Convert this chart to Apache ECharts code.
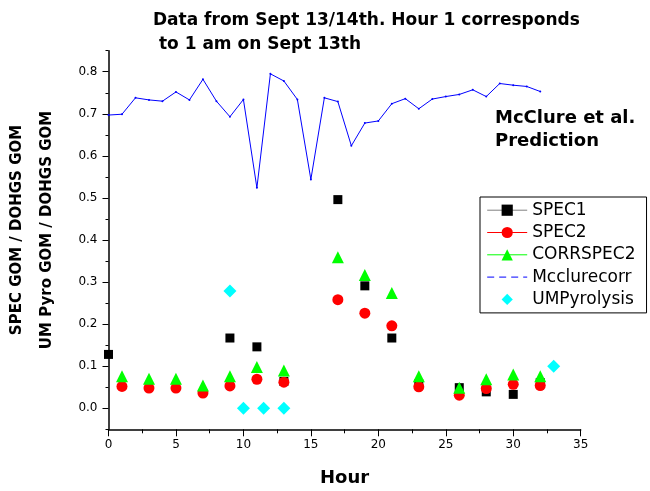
<!DOCTYPE html>
<html>
<head>
<meta charset="utf-8">
<script src="https://cdn.jsdelivr.net/npm/echarts@6/dist/echarts.min.js"></script>
<style>
html,body{margin:0;padding:0;background:#fff;}
#chart{width:650px;height:491px;}
</style>
</head>
<body>
<div id="chart"></div>
<script>
// ---- data ----
const titleText = 'Data from Sept 13/14th. Hour 1 corresponds\n to 1 am on Sept 13th';
const noteText = 'McClure et al.\nPrediction';
const xAxisTitle = 'Hour';
const yAxisTitle = 'SPEC GOM / DOHGS GOM\nUM Pyro GOM / DOHGS GOM';
const seriesNames = ['SPEC1', 'SPEC2', 'CORRSPEC2', 'Mcclurecorr', 'UMPyrolysis'];

const spec1Hours = [0, 9, 11, 13, 17, 19, 21, 23, 26, 28, 30, 32];
const spec1Vals  = [0.128, 0.167, 0.146, 0.064, 0.496, 0.291, 0.167, 0.058, 0.049, 0.039, 0.033, 0.061];

const spec2Hours = [1, 3, 5, 7, 9, 11, 13, 17, 19, 21, 23, 26, 28, 30, 32];
const spec2Vals  = [0.052, 0.048, 0.048, 0.036, 0.053, 0.069, 0.062, 0.258, 0.226, 0.196, 0.051, 0.031, 0.047, 0.057, 0.054];
const corrVals   = [0.076, 0.070, 0.070, 0.054, 0.076, 0.098, 0.090, 0.359, 0.317, 0.274, 0.076, 0.049, 0.069, 0.080, 0.076];

const mccHours = [0, 1, 2, 3, 4, 5, 6, 7, 8, 9, 10, 11, 12, 13, 14, 15, 16, 17, 18, 19, 20, 21, 22, 23, 24, 25, 26, 27, 28, 29, 30, 31, 32];
const mccVals  = [0.697, 0.699, 0.738, 0.733, 0.730, 0.752, 0.733, 0.782, 0.730, 0.693, 0.734, 0.524, 0.795, 0.778, 0.734, 0.544, 0.738, 0.729, 0.624, 0.678, 0.683, 0.724, 0.736, 0.712, 0.735, 0.741, 0.746, 0.757, 0.741, 0.772, 0.768, 0.765, 0.753];

const umpHours = [9, 10, 11.5, 13, 33];
const umpVals  = [0.279, 0, 0, 0, 0.100];

const yMajorTicks = [0, 0.1, 0.2, 0.3, 0.4, 0.5, 0.6, 0.7, 0.8];
const yMinorTicks = [-0.05, 0.05, 0.15, 0.25, 0.35, 0.45, 0.55, 0.65, 0.75, 0.85];

// ---- chart ----
const FONT = "'DejaVu Sans', sans-serif";
const zip = (xs, ys) => xs.map((x, i) => [x, ys[i]]);

const chart = echarts.init(document.getElementById('chart'), null, {renderer: 'canvas'});

chart.setOption({
  animation: false,
  backgroundColor: '#fff',
  title: [
    {
      text: titleText, left: 153, top: 8, padding: 0,
      textStyle: {fontFamily: FONT, fontSize: 17, fontWeight: 'bold', color: '#000', lineHeight: 24.5}
    },
    {
      text: noteText, left: 495, top: 107, padding: 0,
      textStyle: {fontFamily: FONT, fontSize: 18, fontWeight: 'bold', color: '#000', lineHeight: 23}
    }
  ],
  grid: {left: 108.5, right: 69.3, top: 50.7, bottom: 61.7, containLabel: false, outerBoundsMode: 'none'},
  legend: {
    orient: 'vertical', left: 480, top: 197,
    padding: [4.7, 11, 5, 6.7],
    itemWidth: 40, itemHeight: 14, itemGap: 5.3,
    borderColor: '#000', borderWidth: 1, borderRadius: 0,
    backgroundColor: '#fff',
    textStyle: {fontFamily: FONT, fontSize: 17, color: '#000'},
    itemStyle: {opacity: 1},
    lineStyle: {opacity: 1, width: 1},
    selectedMode: false,
    data: [
      {name: seriesNames[0]},
      {name: seriesNames[1]},
      {name: seriesNames[2]},
      {name: seriesNames[3], lineStyle: {type: [7, 5], opacity: 1, width: 1}, itemStyle: {opacity: 0}},
      {name: seriesNames[4], lineStyle: {opacity: 0, width: 0}}
    ]
  },
  xAxis: {
    type: 'value', min: 0, max: 35, interval: 5,
    name: xAxisTitle, nameLocation: 'middle', nameGap: 40,
    nameTextStyle: {fontFamily: FONT, fontSize: 18, fontWeight: 'bold', color: '#000', lineHeight: 18},
    axisLine: {show: true, onZero: false, lineStyle: {color: '#000', width: 1.5}},
    axisTick: {show: true, inside: false, length: 7, lineStyle: {color: '#000', width: 1}},
    minorTick: {show: true, splitNumber: 2, length: 4, lineStyle: {color: '#000', width: 1}},
    axisLabel: {fontFamily: FONT, fontSize: 12, color: '#000', margin: 10},
    splitLine: {show: false}
  },
  yAxis: [
    {
      type: 'value', min: -0.05, max: 0.85, position: 'left', offset: 0,
      name: yAxisTitle, nameLocation: 'middle', nameRotate: 90, nameGap: 46,
      nameTextStyle: {fontFamily: FONT, fontSize: 15, fontWeight: 'bold', color: '#000', lineHeight: 30, padding: [0, 0, 0, 20]},
      axisLine: {show: true, onZero: false, lineStyle: {color: '#000', width: 1.5}},
      axisTick: {show: true, inside: false, length: 6, customValues: yMajorTicks, lineStyle: {color: '#000', width: 1}},
      axisLabel: {fontFamily: FONT, fontSize: 12, color: '#000', margin: 11, customValues: yMajorTicks,
                  formatter: v => Number(v).toFixed(1)},
      splitLine: {show: false}
    },
    {
      type: 'value', min: -0.05, max: 0.85, position: 'left', offset: 0,
      axisLine: {show: false},
      axisTick: {show: true, inside: false, length: 3, customValues: yMinorTicks, lineStyle: {color: '#000', width: 1}},
      axisLabel: {show: false},
      splitLine: {show: false}
    }
  ],
  series: [
    {
      name: seriesNames[0], type: 'line', data: zip(spec1Hours, spec1Vals),
      symbol: 'rect', symbolSize: 9,
      itemStyle: {color: '#000'},
      lineStyle: {color: '#808080', width: 1, opacity: 0},
      emphasis: {disabled: true}, silent: true, z: 3
    },
    {
      name: seriesNames[1], type: 'line', data: zip(spec2Hours, spec2Vals),
      symbol: 'circle', symbolSize: 11,
      itemStyle: {color: '#ff0000'},
      lineStyle: {color: '#ff0000', width: 1, opacity: 0},
      emphasis: {disabled: true}, silent: true, z: 4
    },
    {
      name: seriesNames[2], type: 'line', data: zip(spec2Hours, corrVals),
      symbol: 'triangle', symbolSize: 12,
      itemStyle: {color: '#00ff00'},
      lineStyle: {color: '#00ff00', width: 1, opacity: 0},
      emphasis: {disabled: true}, silent: true, z: 5
    },
    {
      name: seriesNames[3], type: 'line', data: zip(mccHours, mccVals),
      symbol: 'circle', symbolSize: 2, showSymbol: true,
      itemStyle: {color: '#0000ff'},
      lineStyle: {color: '#0000ff', width: 1},
      emphasis: {disabled: true}, silent: true, z: 2
    },
    {
      name: seriesNames[4], type: 'line', data: zip(umpHours, umpVals),
      symbol: 'diamond', symbolSize: 13,
      itemStyle: {color: '#00ffff'},
      lineStyle: {color: '#00ffff', width: 1, opacity: 0},
      emphasis: {disabled: true}, silent: true, z: 6
    }
  ]
});
</script>
</body>
</html>
